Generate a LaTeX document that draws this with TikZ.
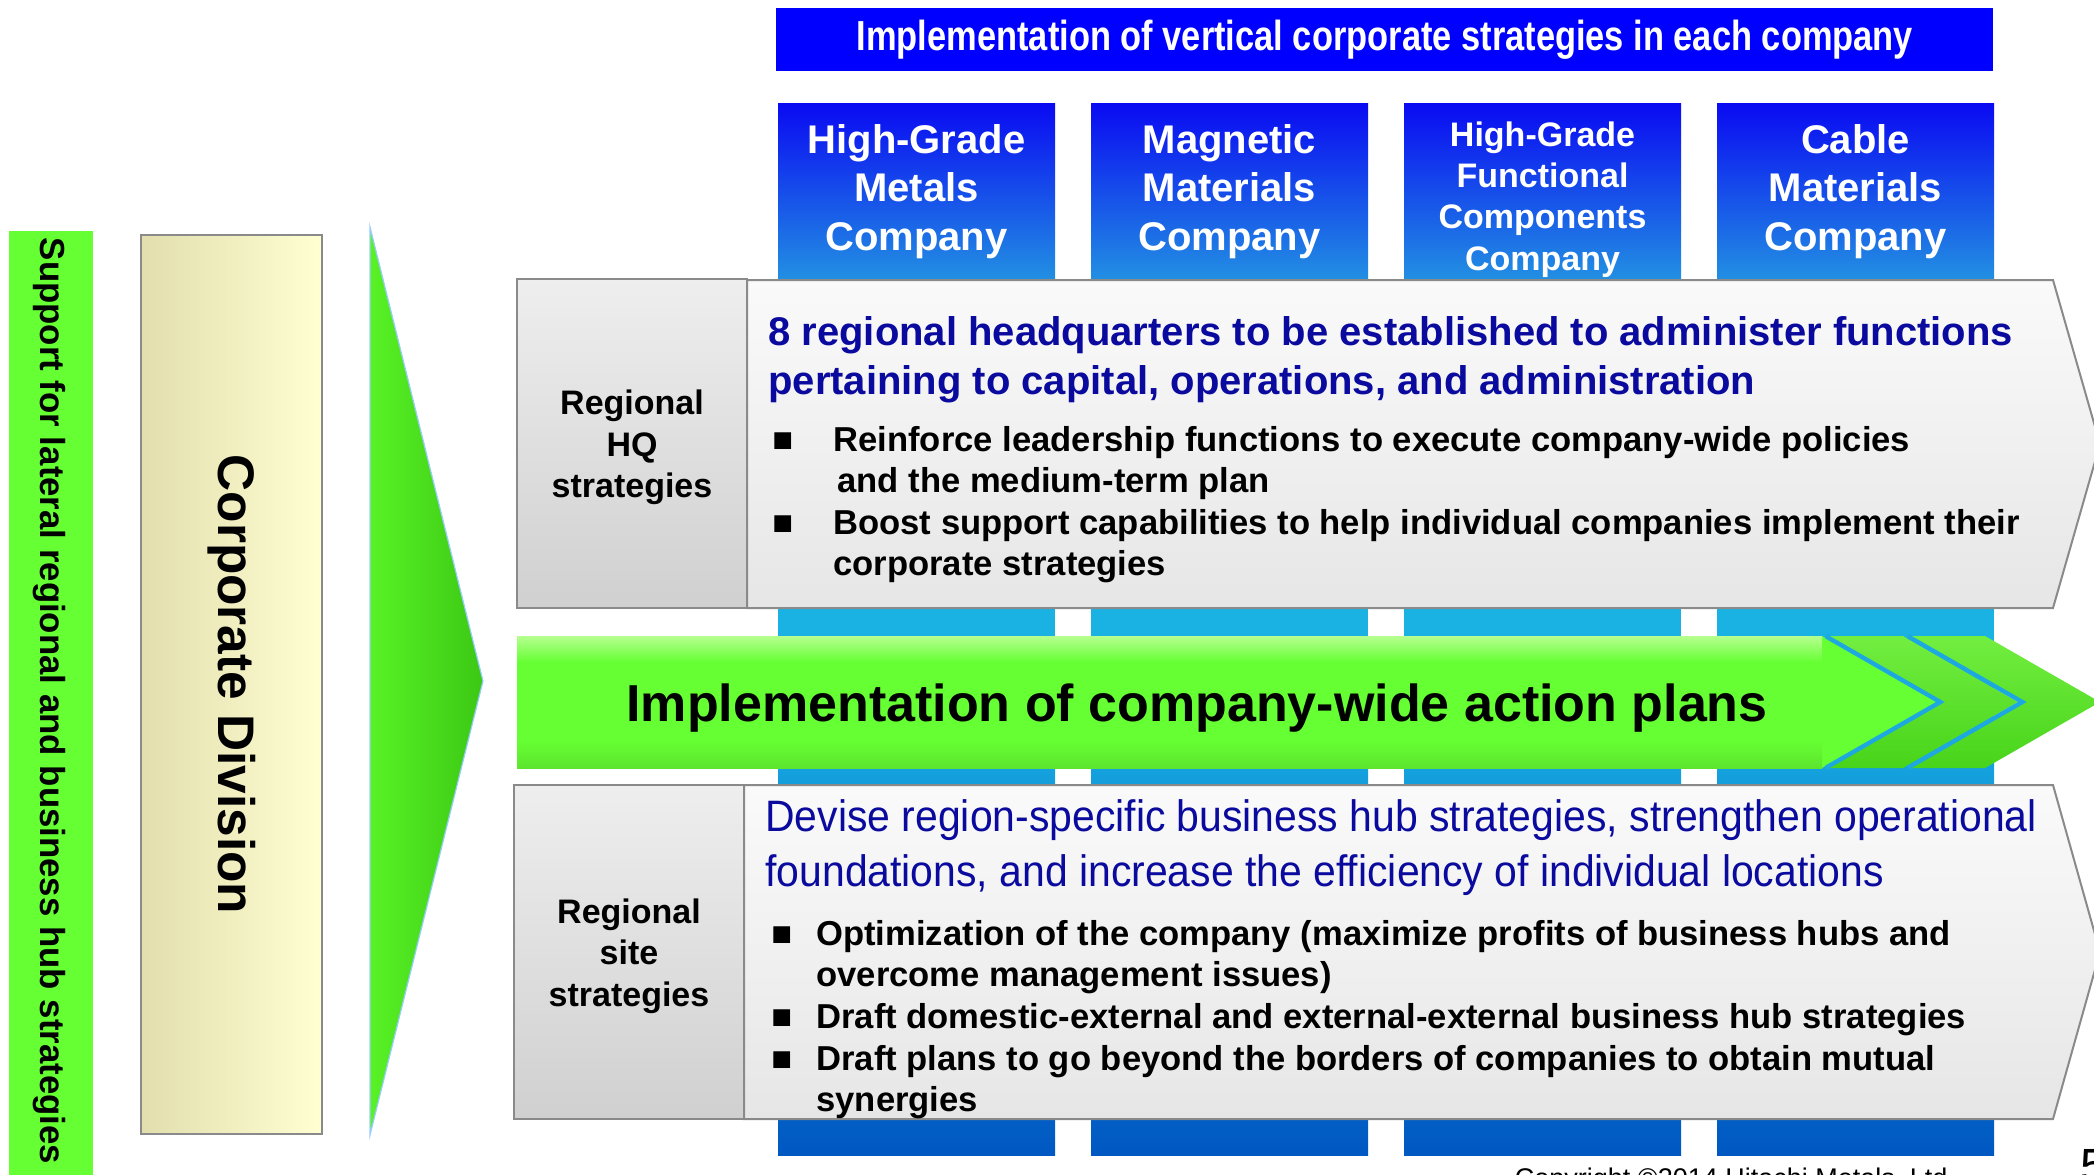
\documentclass[tikz,border=0pt]{standalone}
\usepackage{fontspec}
\setmainfont{Liberation Sans}
\newfontfamily\narrowfont[FakeStretch=0.82]{Liberation Sans}
\newfontfamily\siteheadfont[FakeStretch=0.93]{Liberation Sans}
\usepackage{tikz}
\usetikzlibrary{calc}
\usetikzlibrary{positioning}

\definecolor{bannerblue}{HTML}{0000FF}
\definecolor{compblue_a}{HTML}{0A0AF2}
\definecolor{compblue_b}{HTML}{2290E2}
\definecolor{stripcyan}{HTML}{19B2E3}
\definecolor{stripblue}{HTML}{0058C2}
\definecolor{greenbar}{HTML}{66FF33}
\definecolor{corp_a}{HTML}{E2DEAE}
\definecolor{corp_b}{HTML}{FFFFD2}
\definecolor{tri_a}{HTML}{58F226}
\definecolor{tri_b}{HTML}{3CC814}
\definecolor{trioutline}{HTML}{99CCFF}
\definecolor{paneltop}{HTML}{FAFAFA}
\definecolor{panelbot}{HTML}{E6E6E6}
\definecolor{panelline}{HTML}{8A8A8A}
\definecolor{labtop}{HTML}{EEEEEE}
\definecolor{labbot}{HTML}{D0D0D0}
\definecolor{headnavy}{HTML}{0A0A9E}
\definecolor{plan_a}{HTML}{B6FF90}
\definecolor{plan_b}{HTML}{66FF33}
\definecolor{plan_c}{HTML}{5DE52E}
\definecolor{chev_a}{HTML}{72EE40}
\definecolor{chev_b}{HTML}{48D41A}
\definecolor{chevcyan}{HTML}{1EA8E0}

\begin{document}
\begin{tikzpicture}[x=0.5pt,y=-0.5pt,
  comp_top/.style={top color=compblue_a, bottom color=compblue_b, text=white,
    align=center, minimum width=138.5pt, minimum height=88.5pt,
    anchor=north west, inner sep=0pt, outer sep=0pt},
  lab_box/.style={draw=panelline, line width=1pt, top color=labtop, bottom color=labbot,
    font=\bfseries\fontsize{17}{20.7}\selectfont, align=center, minimum width=115pt,
    anchor=north west, inner sep=0pt, outer sep=0pt},
  lab_txt/.style={font=\bfseries\fontsize{17}{20.7}\selectfont, align=center},
  panel/.style={draw=panelline, line width=1pt, top color=paneltop, bottom color=panelbot},
  bul/.style={font=\fontsize{17.3}{20.7}\selectfont, anchor=base west, inner sep=0pt},
  bul_txt/.style={font=\bfseries\fontsize{17.3}{20.7}\selectfont, align=left,
    anchor=north west, inner sep=0pt},
  chevron/.style={top color=chev_a, bottom color=chev_b},
  cyan_gap/.style={chevcyan, line width=2.5pt, line join=miter}]

  \useasboundingbox (0,0) rectangle (2094,1174);

  % company columns
  \foreach \i/\fs/\ls/\dy/\txt in {0/20/24.4/0/{High-Grade\\Metals\\Company},
                                   1/20/24.4/0/{Magnetic\\Materials\\Company},
                                   2/17/20.7/8/{High-Grade\\Functional\\Components\\Company},
                                   3/20/24.4/0/{Cable\\Materials\\Company}} {
    \fill[stripcyan] (778+313*\i,280) rectangle ++(277,400);
    \shade[top color=stripcyan, bottom color=stripblue] (778+313*\i,679) rectangle ++(277,476);
    \node[comp_top] (comp_\i) at (778+313*\i,103) {};
    \node[text=white, align=center, font=\bfseries\fontsize{\fs}{\ls}\selectfont]
      (comp_txt_\i) at ([yshift=-\dy*0.5pt]comp_\i.center) {\txt};
  }

  \node[fill=bannerblue, text=white, minimum width=608.5pt, minimum height=31.5pt,
        anchor=north west, inner sep=0pt,
        font=\narrowfont\bfseries\fontsize{21}{25}\selectfont] (banner) at (776,8)
    {\raisebox{-1.5pt}{Implementation of vertical corporate strategies in each company}};

  % left side
  \fill[greenbar] (9,231) rectangle (93,1180);
  \node[rotate=-90, font=\bfseries\fontsize{17.4}{20}\selectfont] (support_txt) at (49,701)
    {Support for lateral regional and business hub strategies};

  \node[draw=panelline, line width=1pt, left color=corp_a, right color=corp_b,
        minimum width=90.5pt, minimum height=449.5pt, anchor=north west,
        inner sep=0pt, outer sep=0pt] (corp) at (141,235) {};
  \node[rotate=-90, font=\bfseries\fontsize{25.7}{30}\selectfont] (corp_txt) at (corp.center)
    {Corporate Division};

  \shadedraw[left color=tri_a, right color=tri_b, draw=trioutline, line width=0.6pt]
    (370,227) -- (483,681) -- (370,1135) -- cycle;

  % regional HQ strategies
  \shadedraw[panel] (747,280) -- (2053,280) -- (2100,444) -- (2053,608) -- (747,608) -- cycle;
  \node[lab_box, minimum height=164.5pt] (hq_lab) at (517,279) {};
  \node[lab_txt] (hq_lab_txt) at ([yshift=-2pt]hq_lab.center) {Regional\\HQ\\strategies};

  \node[anchor=north west, inner sep=0pt, align=left, text=headnavy,
        font=\bfseries\fontsize{20}{24.5}\selectfont] (hq_head) at (768,316)
    {8 regional headquarters to be established to administer functions\\
     pertaining to capital, operations, and administration};

  \node[bul] (hq_b1) at (772,451) {■};
  \node[bul_txt] (hq_t1) at (833,426)
    {Reinforce leadership functions to execute company-wide policies\\
     \hspace{2pt}and the medium-term plan};
  \node[bul] (hq_b2) at (772,534) {■};
  \node[bul_txt] (hq_t2) at (833,509)
    {Boost support capabilities to help individual companies implement their\\
     corporate strategies};

  % company-wide action plans
  \fill[plan_b] (517,636) -- (1822,636) -- (1937,702) -- (1822,768) -- (517,768) -- cycle;
  \shade[top color=plan_a, bottom color=plan_b] (517,636) rectangle (1822,662);
  \shade[top color=plan_b, bottom color=plan_c] (517,740) rectangle (1822,768);
  \draw[cyan_gap] (1826,636) -- (1941,702) -- (1826,768);
  \shade[chevron] (1830,636) -- (1903,636) -- (2018,702) -- (1903,768) -- (1830,768) -- (1945,702) -- cycle;
  \draw[cyan_gap] (1908,636) -- (2023,702) -- (1908,768);
  \shade[chevron] (1912,636) -- (1985,636) -- (2100,702) -- (1985,768) -- (1912,768) -- (2027,702) -- cycle;
  \node[font=\bfseries\fontsize{26}{30}\selectfont] (plan_txt) at (1197,708)
    {Implementation of company-wide action plans};

  % regional site strategies
  \shadedraw[panel] (744,785) -- (2053,785) -- (2100,952) -- (2053,1119) -- (744,1119) -- cycle;
  \node[lab_box, minimum height=167pt] (site_lab) at (514,785) {};
  \node[lab_txt] (site_lab_txt) at ([yshift=-2pt]site_lab.center) {Regional\\site\\strategies};

  \node[anchor=north west, inner sep=0pt, align=left, text=headnavy,
        font=\siteheadfont\fontsize{22}{27.5}\selectfont] (site_head) at (765,799)
    {Devise region-specific business hub strategies, strengthen operational\\
     foundations, and increase the efficiency of individual locations};

  \node[bul] (site_b1) at (771,945) {■};
  \node[bul_txt] (site_t1) at (816,920)
    {Optimization of the company (maximize profits of business hubs and\\
     overcome management issues)};
  \node[bul] (site_b2) at (771,1028) {■};
  \node[bul_txt] (site_t2) at (816,1003)
    {Draft domestic-external and external-external business hub strategies};
  \node[bul] (site_b3) at (771,1070) {■};
  \node[bul_txt] (site_t3) at (816,1045)
    {Draft plans to go beyond the borders of companies to obtain mutual\\
     synergies};

  % footer
  \node[anchor=base, font=\fontsize{13.5}{15}\selectfont] (copyright) at (1735,1187)
    {Copyright ©2014 Hitachi Metals, Ltd.};
  \node[anchor=base west, inner sep=0pt, font=\fontsize{24}{28}\selectfont] (page_no) at (2080,1182) {5};

\end{tikzpicture}
\end{document}
